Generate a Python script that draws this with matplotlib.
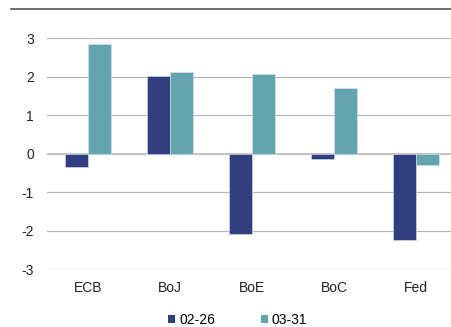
import matplotlib
matplotlib.use("Agg")
import matplotlib.pyplot as plt
from matplotlib.lines import Line2D
from matplotlib.patches import Patch
import numpy as np

plt.rcParams['font.family'] = ['Liberation Sans', 'DejaVu Sans']

# Data
banks = ["ECB", "BoJ", "BoE", "BoC", "Fed"]
feb_26 = [-0.34, 2.02, -2.09, -0.14, -2.24]
mar_31 = [2.86, 2.13, 2.06, 1.70, -0.28]
series_labels = ["02-26", "03-31"]

navy = "#313F80"
teal = "#62A5AF"

fig = plt.figure(figsize=(4.51, 3.27), dpi=100)
ax = fig.add_axes([47 / 451, 1 - 269.3 / 327, (451 - 47) / 451, (269.3 - 38.3) / 327])

x = np.arange(len(banks))
w = 0.285
ax.bar(x - w / 2, feb_26, w, color=navy, edgecolor="#dde4ee", linewidth=0.4, zorder=3)
ax.bar(x + w / 2, mar_31, w, color=teal, edgecolor="#dde4ee", linewidth=0.4, zorder=3)

ax.set_xlim(-0.5, 4.5 - 6 / 82)
ax.set_ylim(-3, 3)
ax.set_yticks([-3, -2, -1, 0, 1, 2, 3])
ax.set_yticklabels(["-3", "-2", "-1", "0", "1", "2", "3"])
ax.set_xticks(x)
ax.set_xticklabels(banks)
ax.grid(axis="y", color="#b8b8b8", linewidth=0.9, zorder=0)
ax.axhline(0, color="#c4c4c4", linewidth=1.4, zorder=2)
for s in ax.spines.values():
    s.set_visible(False)
ax.tick_params(axis="both", length=0, labelsize=10, colors="#222222")
ax.tick_params(axis="y", pad=9.5)
ax.tick_params(axis="x", pad=8.5)

# top rule
fig.add_artist(Line2D([11 / 451, 1], [1 - 9.3 / 327] * 2, color="#555555", linewidth=1.2))

handles = [Patch(facecolor=navy), Patch(facecolor=teal)]
fig.legend(handles, series_labels, ncol=2, loc="center", bbox_to_anchor=(0.527, 1 - 320 / 327),
           frameon=False, fontsize=10, handlelength=0.5, handleheight=0.5,
           handletextpad=0.3, columnspacing=3.3, borderpad=0)

fig.savefig("out.png", dpi=100)
